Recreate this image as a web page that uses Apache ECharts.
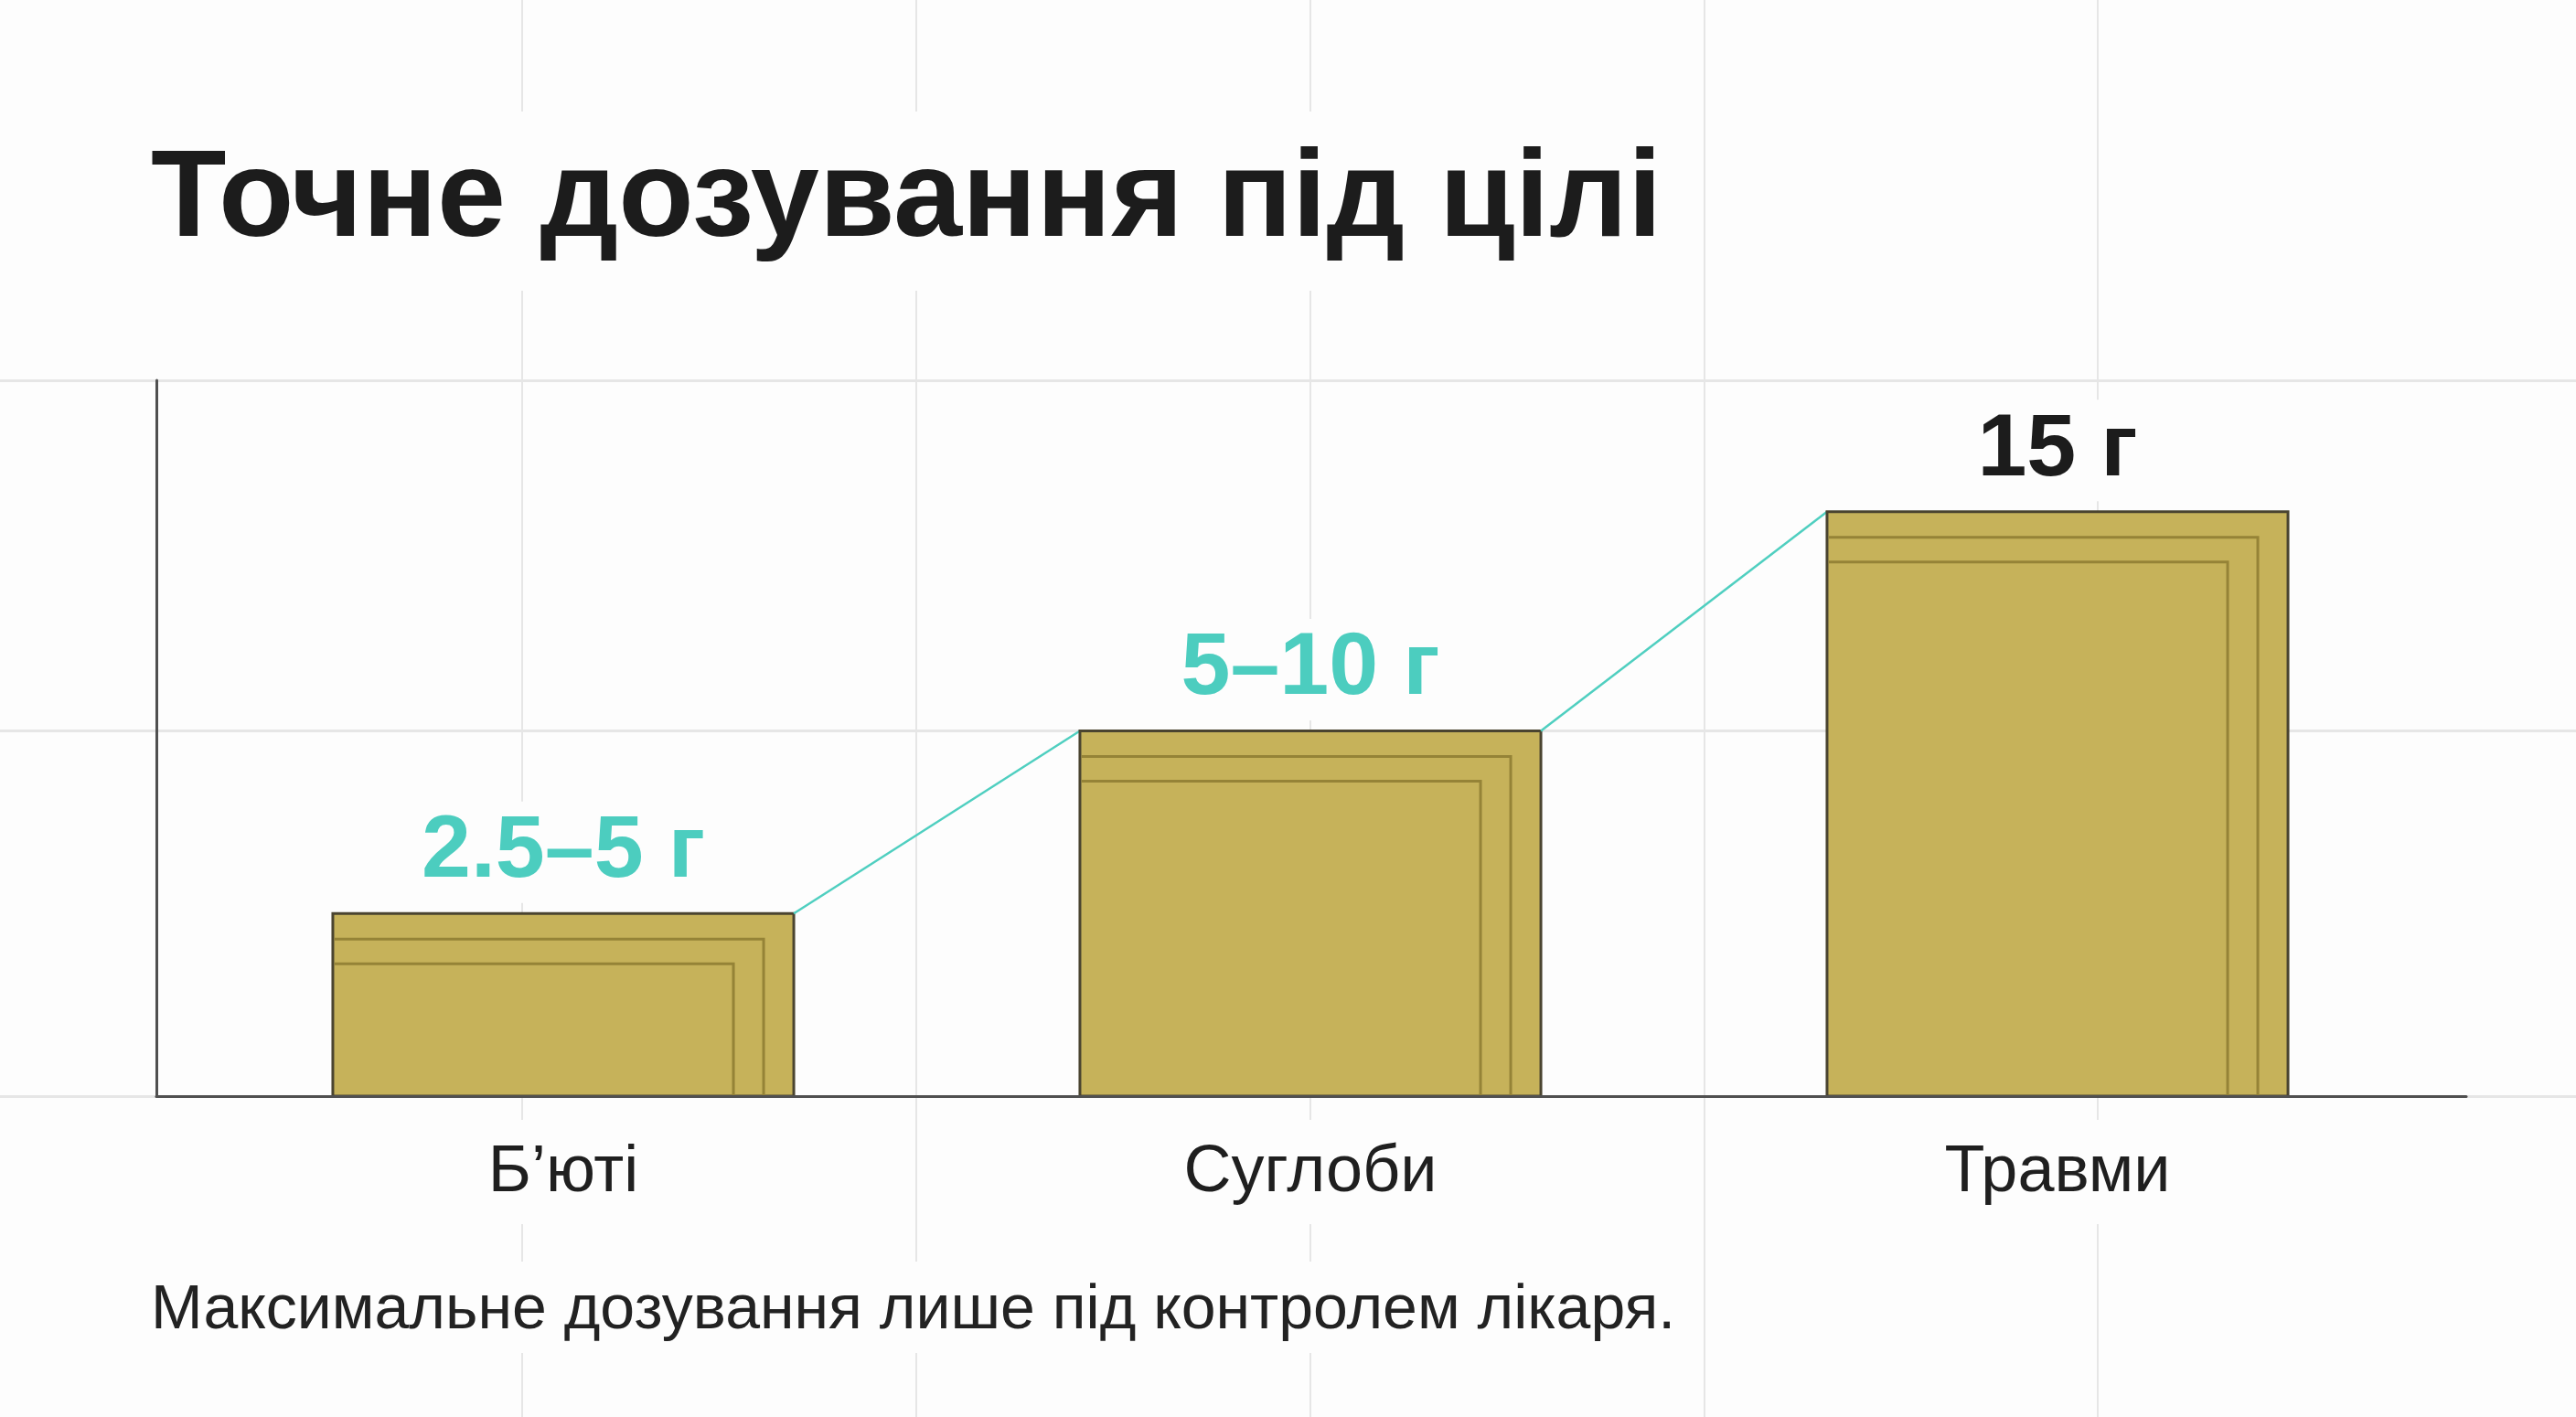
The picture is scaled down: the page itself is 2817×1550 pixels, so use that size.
<!DOCTYPE html>
<html>
<head>
<meta charset="utf-8">
<title>Точне дозування під цілі</title>
<script src="https://cdn.jsdelivr.net/npm/echarts@6.0.0/dist/echarts.min.js"></script>
<style>
  html, body { margin: 0; padding: 0; background: #fdfdfd; }
  #chart { width: 2817px; height: 1550px; }
</style>
</head>
<body>
<div id="chart"></div>
<script>
// data
const categories = ['Б’юті', 'Суглоби', 'Травми'];
const doseValues = [5, 10, 16];            // bar heights
const doseLabels = ['2.5–5 г', '5–10 г', '15 г'];
const labelColors = ['#4ccdbf', '#4ccdbf', '#1c1c1c'];
const yMax = 19.6;

const FONT = '"Liberation Sans", Arial, Helvetica, sans-serif';
const BG = '#fdfdfd';
const GRIDLINE = '#e6e6e6';

// bar + stacked-sheet outline + connector + value label
function renderDose(params, api) {
  const i = params.dataIndex;
  const top = api.coord([i, api.value(1)]);
  const base = api.coord([i, 0]);
  const w = api.size([1, 0])[0] * 0.617;
  const x0 = top[0] - w / 2, x1 = top[0] + w / 2;
  const y0 = top[1], yb = base[1];

  const children = [
    {
      type: 'rect',
      shape: { x: x0, y: y0, width: w, height: yb - y0 },
      style: { fill: '#c6b25a', stroke: '#4a4430', lineWidth: 3 }
    },
    {
      type: 'polyline',
      shape: { points: [[x0 + 2, y0 + 28], [x1 - 33, y0 + 28], [x1 - 33, yb]] },
      style: { stroke: '#958337', lineWidth: 3, fill: null }
    },
    {
      type: 'polyline',
      shape: { points: [[x0 + 2, y0 + 55], [x1 - 66, y0 + 55], [x1 - 66, yb]] },
      style: { stroke: '#958337', lineWidth: 3, fill: null }
    }
  ];

  if (i < doseValues.length - 1) {
    const next = api.coord([i + 1, doseValues[i + 1]]);
    children.push({
      type: 'line',
      shape: { x1: x1, y1: y0, x2: next[0] - w / 2, y2: next[1] },
      style: { stroke: '#4fcfc0', lineWidth: 2.5 }
    });
  }

  children.push({
    type: 'text',
    x: top[0],
    y: y0 - 67,
    style: {
      text: doseLabels[i],
      fill: labelColors[i],
      fontFamily: FONT,
      fontSize: 97,
      fontWeight: 'bold',
      lineHeight: 97,
      align: 'center',
      verticalAlign: 'middle',
      backgroundColor: BG,
      padding: [10, 24, 4, 24]
    }
  });

  return { type: 'group', children: children };
}

const option = {
  backgroundColor: BG,
  animation: false,
  title: [
    {
      text: 'Точне дозування під цілі',
      left: 135,
      top: 122,
      padding: [31, 30, 30, 30],
      backgroundColor: BG,
      textStyle: { fontFamily: FONT, fontSize: 135, lineHeight: 135, fontWeight: 'bold', color: '#1c1c1c' }
    },
    {
      text: 'Максимальне дозування лише під контролем лікаря.',
      left: 135,
      top: 1380,
      padding: [20, 30, 12, 30],
      backgroundColor: BG,
      textStyle: { fontFamily: FONT, fontSize: 68, lineHeight: 68, fontWeight: 'normal', color: '#222' }
    }
  ],
  grid: [
    // 0: axis lines
    { left: 171, right: 120, top: 416, bottom: 351 },
    // 1: bars
    { left: 207.5, right: 158.5, top: 416, bottom: 351 },
    // 2: background horizontal lines
    { left: 0, right: 0, top: 416, bottom: 351 },
    // 3: background vertical lines
    { left: 571, right: 523, top: 0, bottom: 0 }
  ],
  xAxis: [
    {
      gridIndex: 0, type: 'value', min: 0, max: 1, z: 3,
      axisLine: { show: true, lineStyle: { color: '#505050', width: 3 } },
      axisTick: { show: false }, axisLabel: { show: false }, splitLine: { show: false }
    },
    {
      gridIndex: 1, type: 'category', data: categories, z: 4,
      axisLine: { show: false }, axisTick: { show: false }, splitLine: { show: false },
      axisLabel: {
        fontFamily: FONT, fontSize: 72, lineHeight: 72, color: '#1f1f1f', margin: 26,
        backgroundColor: BG, padding: [22, 30, 20, 30]
      }
    },
    {
      gridIndex: 2, type: 'value', min: 0, max: 1, show: false
    },
    {
      gridIndex: 3, type: 'value', min: 0, max: 4, interval: 1, z: 0,
      axisLine: { show: false }, axisTick: { show: false }, axisLabel: { show: false },
      splitLine: { show: true, lineStyle: { color: GRIDLINE, width: 2 } }
    }
  ],
  yAxis: [
    {
      gridIndex: 0, type: 'value', min: 0, max: yMax, z: 3,
      axisLine: { show: true, lineStyle: { color: '#505050', width: 3 } },
      axisTick: { show: false }, axisLabel: { show: false }, splitLine: { show: false }
    },
    {
      gridIndex: 1, type: 'value', min: 0, max: yMax, show: false
    },
    {
      gridIndex: 2, type: 'value', min: 0, max: yMax, interval: 10, z: 0,
      axisLine: { show: false }, axisTick: { show: false }, axisLabel: { show: false },
      splitLine: { show: true, lineStyle: { color: GRIDLINE, width: 3 } }
    },
    {
      gridIndex: 3, type: 'value', min: 0, max: 1, show: false
    }
  ],
  series: [
    {
      type: 'custom',
      xAxisIndex: 1,
      yAxisIndex: 1,
      z: 2,
      renderItem: renderDose,
      encode: { x: 0, y: 1 },
      data: doseValues.map((v, i) => [i, v])
    }
  ]
};

const chart = echarts.init(document.getElementById('chart'), null, { renderer: 'canvas' });
chart.setOption(option);
</script>
</body>
</html>
